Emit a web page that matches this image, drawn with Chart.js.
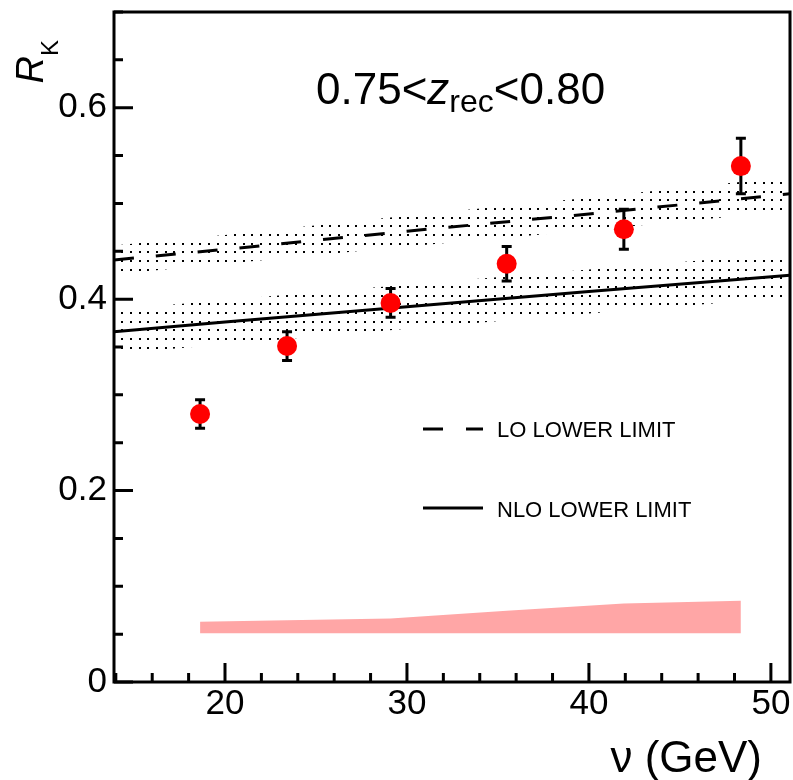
<!DOCTYPE html>
<html>
<head>
<meta charset="utf-8">
<script src="https://cdn.jsdelivr.net/npm/chart.js@4.4.1/dist/chart.umd.min.js"></script>
<style>
  html, body { margin: 0; padding: 0; background: #fff; }
</style>
</head>
<body>
<canvas id="myChart" width="793" height="780"></canvas>
<script>
// measured R_K per nu bin
let nuBins = [18.63, 23.41, 29.10, 35.48, 41.92, 48.35];
let rK = [0.280, 0.351, 0.396, 0.437, 0.473, 0.539];
let rKStat = [0.015, 0.015, 0.015, 0.018, 0.021, 0.029];

// systematic band, drawn at the bottom of the frame
let sysBase = [0.051, 0.051, 0.051, 0.051, 0.051, 0.051];
let sysTop = [0.063, 0.0646, 0.0664, 0.0745, 0.082, 0.0848];

// lower-limit curves and their uncertainty bands
let nuCurve = [13.9, 20, 30, 40, 51.05];
let loLimit = [0.441, 0.452, 0.471, 0.489, 0.510];
let loUpper = [0.456, 0.467, 0.487, 0.506, 0.528];
let loLower = [0.426, 0.437, 0.455, 0.472, 0.492];
let nloLimit = [0.366, 0.376, 0.392, 0.408, 0.425];
let nloUpper = [0.389, 0.399, 0.415, 0.431, 0.448];
let nloLower = [0.343, 0.353, 0.369, 0.385, 0.402];

let xTickLabels = [20, 30, 40, 50];
let yTickLabels = [0, 0.2, 0.4, 0.6];

let fontFamily = '"Liberation Sans", Arial, sans-serif';

function xy(xs, ys) {
  return xs.map((v, i) => ({ x: v, y: ys[i] }));
}

let ctx = document.getElementById('myChart').getContext('2d');

function dotPattern() {
  let c = document.createElement('canvas');
  c.width = 26;
  c.height = 26;
  let g = c.getContext('2d');
  g.fillStyle = '#000';
  [0, 9, 17].forEach(px => {
    [0, 9, 17].forEach(py => g.fillRect(px, py, 2, 2));
  });
  return ctx.createPattern(c, 'repeat');
}
let dots = dotPattern();

function band(data, fill, color, order) {
  return {
    data: data,
    showLine: true,
    fill: fill,
    backgroundColor: color,
    borderColor: 'transparent',
    borderWidth: 0,
    pointRadius: 0,
    tension: 0,
    order: order,
  };
}

// keep the frame where it is, no room reserved for overhanging labels
function fixScale(s, size) {
  if (s.isHorizontal()) s.height = size;
  else s.width = size;
  s.paddingTop = 0;
  s.paddingBottom = 0;
  s.paddingLeft = 0;
  s.paddingRight = 0;
}

// frame with inward ticks
const frameAndTicks = {
  id: 'frameAndTicks',
  afterDatasetsDraw(chart) {
    const { ctx, chartArea: a, scales: { x, y } } = chart;
    ctx.save();
    ctx.strokeStyle = '#000';
    ctx.lineWidth = 3;
    ctx.strokeRect(a.left, a.top, a.right - a.left, a.bottom - a.top);
    ctx.beginPath();
    for (let i = 0; i * 0.05 <= y.max + 1e-9; i++) {
      let py = y.getPixelForValue(i * 0.05);
      let len = i % 4 === 0 ? 19 : 9;
      ctx.moveTo(a.left, py);
      ctx.lineTo(a.left + len, py);
    }
    for (let v = 14; v <= x.max; v += 2) {
      if (v < x.min) continue;
      let px = x.getPixelForValue(v);
      let len = v % 10 === 0 ? 19 : 9;
      ctx.moveTo(px, a.bottom);
      ctx.lineTo(px, a.bottom - len);
    }
    ctx.stroke();
    ctx.restore();
  },
};

// statistical error bars under each marker
const errorBars = {
  id: 'errorBars',
  beforeDatasetDraw(chart, args) {
    if (chart.data.datasets[args.index].label !== 'R_K') return;
    const { ctx, scales: { x, y } } = chart;
    ctx.save();
    ctx.strokeStyle = '#000';
    ctx.lineWidth = 3;
    ctx.beginPath();
    nuBins.forEach((nu, i) => {
      let px = x.getPixelForValue(nu);
      let top = y.getPixelForValue(rK[i] + rKStat[i]);
      let bot = y.getPixelForValue(rK[i] - rKStat[i]);
      ctx.moveTo(px, top);
      ctx.lineTo(px, bot);
      ctx.moveTo(px - 5, top);
      ctx.lineTo(px + 5, top);
      ctx.moveTo(px - 5, bot);
      ctx.lineTo(px + 5, bot);
    });
    ctx.stroke();
    ctx.restore();
  },
};

function drawRuns(ctx, x, y, runs) {
  runs.forEach(r => {
    ctx.font = r.font;
    ctx.fillText(r.text, x, y + (r.dy || 0));
    x += ctx.measureText(r.text).width;
  });
}

// titles, bin label and legend
const labels = {
  id: 'labels',
  afterDraw(chart) {
    const { ctx } = chart;
    ctx.save();
    ctx.fillStyle = '#000';
    ctx.textBaseline = 'alphabetic';
    ctx.textAlign = 'left';

    drawRuns(ctx, 316, 104, [
      { text: '0.75<', font: '44px ' + fontFamily },
      { text: 'z', font: 'italic 44px ' + fontFamily },
      { text: 'rec', font: '32px ' + fontFamily, dy: 8 },
      { text: '<0.80', font: '44px ' + fontFamily },
    ]);

    // x-axis title
    ctx.font = '44px ' + fontFamily;
    ctx.textAlign = 'right';
    ctx.fillText('\u03bd (GeV)', 762, 772);

    // y-axis title, rotated
    ctx.save();
    ctx.translate(43, 40);
    ctx.rotate(-Math.PI / 2);
    ctx.textAlign = 'left';
    ctx.font = '24px ' + fontFamily;
    let wK = ctx.measureText('K').width;
    ctx.font = 'italic 38px ' + fontFamily;
    let wR = ctx.measureText('R').width;
    ctx.fillText('R', -(wR + wK), 0);
    ctx.font = '24px ' + fontFamily;
    ctx.fillText('K', -wK, 15);
    ctx.restore();

    // legend
    ctx.textAlign = 'left';
    ctx.font = '22px ' + fontFamily;
    ctx.fillText('LO LOWER LIMIT', 497, 437);
    ctx.fillText('NLO LOWER LIMIT', 497, 517);
    ctx.strokeStyle = '#000';
    ctx.lineWidth = 3;
    ctx.setLineDash([20, 23]);
    ctx.beginPath();
    ctx.moveTo(423, 429);
    ctx.lineTo(483, 429);
    ctx.stroke();
    ctx.setLineDash([]);
    ctx.beginPath();
    ctx.moveTo(423, 508);
    ctx.lineTo(483, 508);
    ctx.stroke();
    ctx.restore();
  },
};

let tickFont = { family: fontFamily, size: 35 };

let myChart = new Chart(ctx, {
  type: 'scatter',
  data: {
    datasets: [
      band(xy(nuBins, sysBase), false, 'transparent', 6),
      band(xy(nuBins, sysTop), '-1', 'rgb(255, 166, 166)', 6),
      band(xy(nuCurve, loLower), false, 'transparent', 5),
      band(xy(nuCurve, loUpper), '-1', dots, 5),
      band(xy(nuCurve, nloLower), false, 'transparent', 4),
      band(xy(nuCurve, nloUpper), '-1', dots, 4),
      {
        label: 'LO',
        data: xy(nuCurve, loLimit),
        showLine: true,
        fill: false,
        borderColor: '#000',
        borderWidth: 3,
        borderDash: [20, 22],
        pointRadius: 0,
        tension: 0,
        order: 2,
      },
      {
        label: 'NLO',
        data: xy(nuCurve, nloLimit),
        showLine: true,
        fill: false,
        borderColor: '#000',
        borderWidth: 3,
        pointRadius: 0,
        tension: 0,
        order: 2,
      },
      {
        label: 'R_K',
        data: xy(nuBins, rK),
        backgroundColor: '#ff0000',
        borderWidth: 0,
        pointRadius: 10,
        pointHoverRadius: 10,
        order: 0,
      },
    ],
  },
  options: {
    responsive: false,
    animation: false,
    devicePixelRatio: 1,
    layout: { autoPadding: false, padding: { top: 12, right: 3, left: 0, bottom: 0 } },
    plugins: {
      legend: { display: false },
      tooltip: { enabled: false },
    },
    scales: {
      x: {
        type: 'linear',
        min: 13.9,
        max: 51.05,
        afterBuildTicks: s => { s.ticks = xTickLabels.map(v => ({ value: v })); },
        afterFit: s => fixScale(s, 98),
        grid: { display: false, drawTicks: false },
        border: { display: false },
        ticks: {
          font: tickFont,
          color: '#000',
          padding: 1,
          maxRotation: 0,
          autoSkip: false,
          callback: v => String(v),
        },
      },
      y: {
        type: 'linear',
        min: 0,
        max: 0.7,
        afterBuildTicks: s => { s.ticks = yTickLabels.map(v => ({ value: v })); },
        afterFit: s => fixScale(s, 114),
        grid: { display: false, drawTicks: false },
        border: { display: false },
        ticks: {
          font: tickFont,
          color: '#000',
          padding: 7,
          autoSkip: false,
          callback: v => (v === 0 ? '0' : v.toFixed(1)),
        },
      },
    },
  },
  plugins: [frameAndTicks, errorBars, labels],
});
</script>
</body>
</html>
